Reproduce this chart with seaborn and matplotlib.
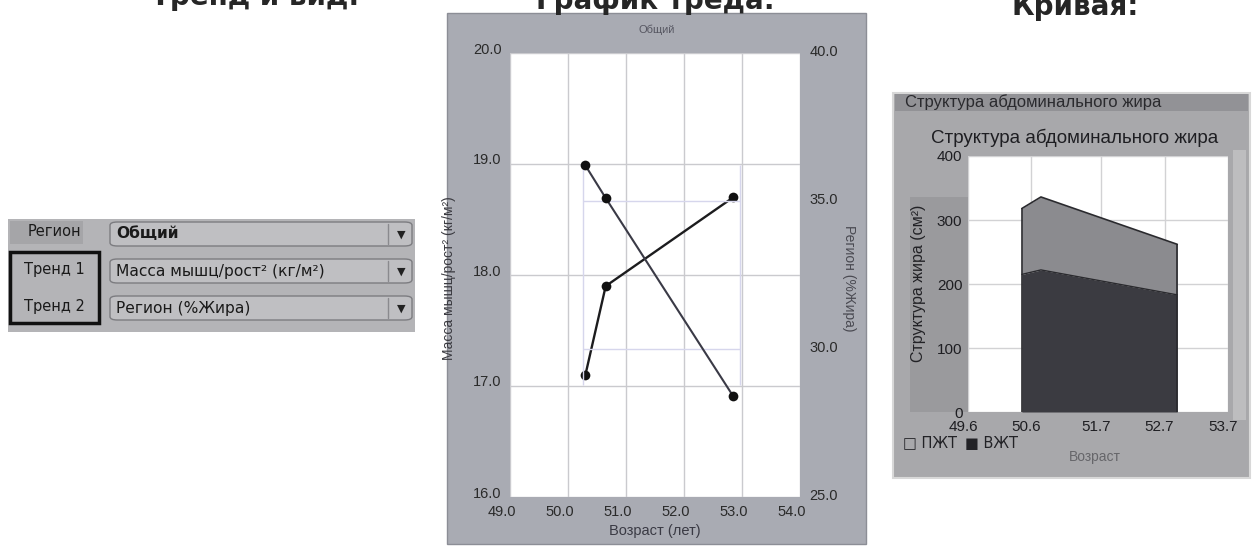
import matplotlib
matplotlib.use("Agg")
import matplotlib.pyplot as plt
import seaborn as sns
from matplotlib.patches import Rectangle, FancyBboxPatch
from matplotlib.transforms import ScaledTranslation

W, H = 1255, 552

# trend chart (График треда)
trend_ages = [50.3, 50.65, 52.85]
muscle_index = [17.1, 17.9, 18.7]      # Масса мышц/рост² (кг/м²), left axis
fat_percent = [36.2, 35.1, 28.4]       # Регион (%Жира), right axis
trend_xticks = [49.0, 50.0, 51.0, 52.0, 53.0, 54.0]
trend_left_ticks = [16.0, 17.0, 18.0, 19.0, 20.0]
trend_right_ticks = [25.0, 30.0, 35.0, 40.0]

# abdominal fat structure (Кривая)
fat_ages = [50.45, 50.75, 52.9]
vzht = [215, 222, 183]                 # ВЖТ
total_fat = [318, 336, 262]            # ПЖТ stacked on ВЖТ
fat_xticks = [49.6, 50.6, 51.7, 52.7, 53.7]
fat_yticks = [0, 100, 200, 300, 400]

# selector panel
row_labels = ["Регион", "Тренд 1", "Тренд 2"]
row_values = ["Общий", "Масса мышц/рост² (кг/м²)", "Регион (%Жира)"]

sns.set_style("white")
plt.rcParams["font.family"] = ["Liberation Sans", "DejaVu Sans"]

fig = plt.figure(figsize=(W / 100, H / 100), dpi=100)
fig.patch.set_facecolor("white")


def fx(x):
    return x / W


def fy(y):
    return 1 - y / H


def box(x0, y0, x1, y1):
    return [x0 / W, 1 - y1 / H, (x1 - x0) / W, (y1 - y0) / H]


def rect(x0, y0, x1, y1, zorder=-5, **kw):
    fig.patches.append(Rectangle((fx(x0), fy(y1)), (x1 - x0) / W, (y1 - y0) / H,
                                 transform=fig.transFigure, zorder=zorder, **kw))


def label(x, y, s, **kw):
    fig.text(fx(x), fy(y), s, **kw)


def shift_labels(labels, dx, dy):
    for t in labels:
        t.set_transform(t.get_transform()
                        + ScaledTranslation(dx / 100, dy / 100, fig.dpi_scale_trans))


# headings, cut off at the top of the scan
head = dict(fontsize=20, weight="bold", family="DejaVu Sans", va="baseline", ha="center")
label(255, 5, "Тренд и вид:", **head)
label(655, 9, "График треда:", **head)
label(1075, 15, "Кривая:", **head)

# ---- selector panel
rect(8, 219, 415, 332, facecolor="#b4b4b7", edgecolor="none")
rect(10, 221, 83, 244, facecolor="#a5a5a8", edgecolor="none")
rect(10, 252, 99, 323, facecolor="none", edgecolor="#111111", lw=2.5, zorder=-4)
label_y = [232, 269, 306]
combo_y = [(222, 246), (259, 283), (296, 320)]
for lab, val, ly, (c0, c1) in zip(row_labels, row_values, label_y, combo_y):
    label(54, ly, lab, ha="center", va="center", fontsize=10.5, family="DejaVu Sans",
          color="#1a1a1a")
    fig.patches.append(FancyBboxPatch((fx(110), fy(c1)), 302 / W, (c1 - c0) / H,
                                      boxstyle="round,pad=0,rounding_size=0.006",
                                      transform=fig.transFigure, zorder=-4,
                                      facecolor="#bfbfc2", edgecolor="#7c7c80", lw=1))
    fig.lines.append(plt.Line2D([fx(388), fx(388)], [fy(c0 + 2), fy(c1 - 2)],
                                transform=fig.transFigure, color="#8a8a8e", lw=1))
    label(116, (c0 + c1) / 2, val, ha="left", va="center", fontsize=11.2,
          family="DejaVu Sans", color="#1a1a1a",
          weight="bold" if val == "Общий" else "normal")
    label(401, (c0 + c1) / 2 + 1, "▼", ha="center", va="center", fontsize=8,
          family="DejaVu Sans", color="#222222")

# ---- trend chart
rect(447, 13, 866, 544, facecolor="#a9abb3", edgecolor="#8c8e96", lw=1)
label(657, 30, "Общий", ha="center", va="center", fontsize=8, color="#555560")

ax = fig.add_axes(box(510, 53, 800, 497))
ax.set_facecolor("white")
sns.lineplot(x=trend_ages, y=muscle_index, ax=ax, sort=False, color="#1c1c1e",
             lw=1.7, marker="o", markersize=7, markeredgewidth=0,
             markerfacecolor="#111111")
ax.set_xlim(49, 54)
ax.set_ylim(16, 20)
ax.set_xticks(trend_xticks)
ax.set_yticks(trend_left_ticks)
ax.set_xticklabels([f"{v:.1f}" for v in trend_xticks])
ax.set_yticklabels([f"{v:.1f}" for v in trend_left_ticks])
ax.grid(True, color="#cacace", lw=1)
ax.tick_params(length=0, labelsize=10.5, colors="#2a2a2a")
ax.tick_params(axis="y", pad=6)
ax.tick_params(axis="x", pad=6)
ax.set_xlabel("")
ax.set_ylabel("")
for s in ax.spines.values():
    s.set_visible(False)
shift_labels(ax.get_xticklabels(), -8, 0)
shift_labels(ax.get_yticklabels(), 0, 5)

ax2 = ax.twinx()
ax2.hlines([30, 35], 50.25, 52.97, color="#d6d6ec", lw=1, zorder=0)
ax2.vlines([50.25, 52.97], 28.8, 36.2, color="#d6d6ec", lw=1, zorder=0)
sns.lineplot(x=trend_ages, y=fat_percent, ax=ax2, sort=False, color="#3a3a46",
             lw=1.5, marker="o", markersize=7, markeredgewidth=0,
             markerfacecolor="#111111")
ax2.set_ylim(25, 40)
ax2.set_yticks(trend_right_ticks)
ax2.set_yticklabels([f"{v:.1f}" for v in trend_right_ticks])
ax2.tick_params(length=0, labelsize=10.5, colors="#2a2a2a", pad=7)
ax2.set_ylabel("")
for s in ax2.spines.values():
    s.set_visible(False)
shift_labels(ax2.get_yticklabels(), 0, 3)

label(449, 278, "Масса мышц/рост² (кг/м²)", rotation=90, ha="center", va="center",
      fontsize=10, color="#3a3a40")
label(849, 278, "Регион (%Жира)", rotation=270, ha="center", va="center",
      fontsize=10, color="#4a4a52")
label(655, 531, "Возраст (лет)", ha="center", va="center", fontsize=10.5,
      color="#3a3a44")

# ---- abdominal fat chart
rect(893, 93, 1250, 478, facecolor="#a8a8ab", edgecolor="#d8d8d8", lw=1.5)
rect(895, 94, 1248, 111, facecolor="#929296", edgecolor="none", zorder=-4)
rect(910, 197, 968, 412, facecolor="#9a9a9d", edgecolor="none", zorder=-4)
rect(1233, 150, 1246, 420, facecolor="#bdbdbf", edgecolor="none", zorder=-4)
label(905, 102, "Структура абдоминального жира", ha="left", va="center",
      fontsize=12, color="#2a2a2e")
label(1075, 138, "Структура абдоминального жира", ha="center", va="center",
      fontsize=13.5, color="#1e1e22")

ax3 = fig.add_axes(box(968, 156, 1228, 412))
ax3.set_facecolor("white")
ax3.fill_between(fat_ages, 0, vzht, color="#3b3b41", lw=0, zorder=2)
ax3.fill_between(fat_ages, vzht, total_fat, color="#8b8b8f", lw=0, zorder=2)
sns.lineplot(x=fat_ages, y=total_fat, ax=ax3, sort=False, color="#2a2a2e", lw=1.2,
             zorder=3)
sns.lineplot(x=fat_ages, y=vzht, ax=ax3, sort=False, color="#2a2a2e", lw=1,
             zorder=3)
ax3.vlines([fat_ages[0], fat_ages[-1]], 0, [total_fat[0], total_fat[-1]],
           color="#2a2a2e", lw=1.2, zorder=3)
ax3.set_xlim(49.6, 53.7)
ax3.set_ylim(0, 400)
ax3.set_xticks(fat_xticks)
ax3.set_yticks(fat_yticks)
ax3.set_xticklabels([f"{v:.1f}" for v in fat_xticks])
ax3.grid(True, color="#d2d2d4", lw=1)
ax3.tick_params(length=0, labelsize=11, colors="#1e1e22")
ax3.tick_params(axis="x", pad=6)
ax3.tick_params(axis="y", pad=4)
ax3.set_xlabel("")
ax3.set_ylabel("")
for s in ax3.spines.values():
    s.set_visible(False)
shift_labels(ax3.get_xticklabels(), -5, 0)

label(918, 283, "Структура жира (см²)", rotation=90, ha="center", va="center",
      fontsize=11.5, color="#222226")
label(903, 443, "□ ПЖТ", ha="left", va="center", fontsize=10.5, color="#222226",
      family=["DejaVu Sans"])
label(965, 443, "■ ВЖТ", ha="left", va="center", fontsize=10.5, color="#222226",
      family=["DejaVu Sans"])
label(1095, 457, "Возраст", ha="center", va="center", fontsize=10, color="#66666a")

fig.savefig("out.png", dpi=100)
